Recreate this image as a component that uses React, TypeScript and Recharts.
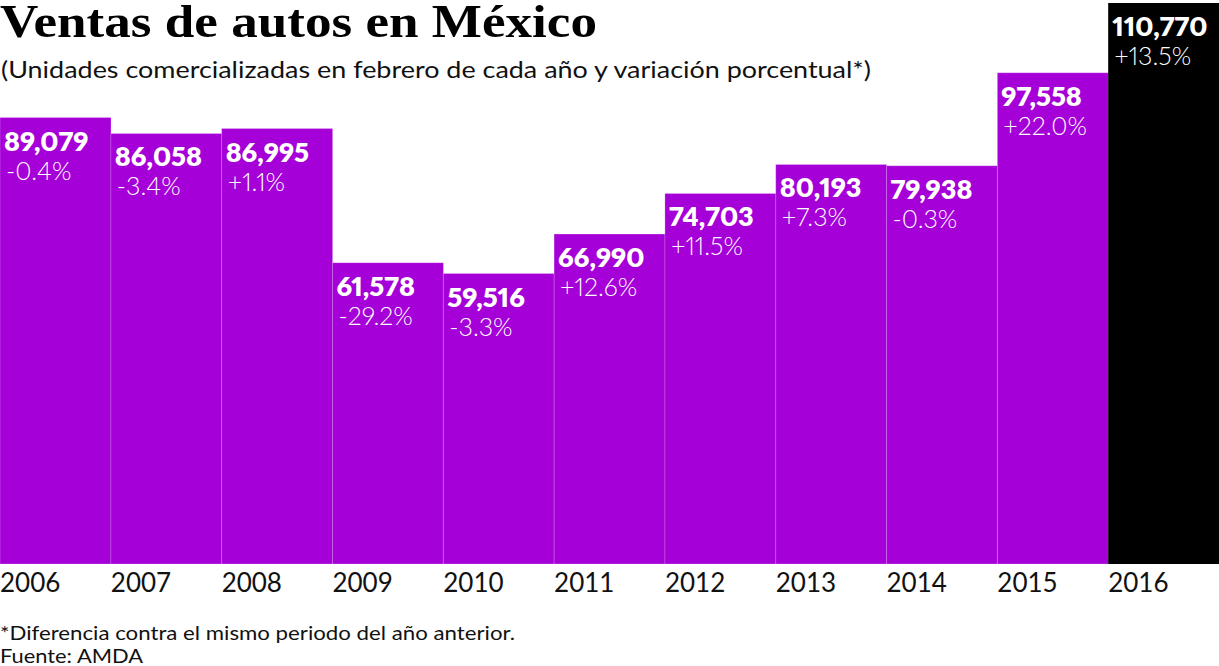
import { BarChart, Bar, XAxis, YAxis, Cell, LabelList } from 'recharts'

const years = ['2006', '2007', '2008', '2009', '2010', '2011', '2012', '2013', '2014', '2015', '2016']
const units = [89079, 86058, 86995, 61578, 59516, 66990, 74703, 80193, 79938, 97558, 110770]
const changes = ['-0.4%', '-3.4%', '+1.1%', '-29.2%', '-3.3%', '+12.6%', '+11.5%', '+7.3%', '-0.3%', '+22.0%', '+13.5%']

const W = 1219
const H = 666
const PURPLE = '#A600D8'
const FONT = 'Lato, "Open Sans", sans-serif'

const data = years.map((year, i) => ({ year, units: units[i], change: changes[i] }))

function fmt(n: number) {
  return n.toLocaleString('en-US')
}

function BarLabel(props: any) {
  const { x, y, index } = props
  const d = data[index]
  return (
    <g fill="#fff" fontFamily={FONT} style={{ fontVariantNumeric: 'proportional-nums' }}>
      <text x={x + 4} y={y + 33} fontSize={27} fontWeight={800}>{fmt(d.units)}</text>
      <text x={x + 6} y={y + 62} fontSize={25} fontWeight={300}>{d.change}</text>
    </g>
  )
}

function YearTick(props: any) {
  const { x, payload } = props
  const band = W / years.length
  return (
    <text x={x - band / 2} y={592} fontSize={26} fontFamily={FONT} fill="#111" textAnchor="start">
      {payload.value}
    </text>
  )
}

export default function App() {
  return (
    <div style={{ position: 'absolute', left: 0, top: 0, width: W, height: H, background: '#fff' }}>
      <BarChart width={W} height={H} data={data} margin={{ top: 3, right: 0, left: 0, bottom: 0 }} barCategoryGap={0}>
        <XAxis dataKey="year" axisLine={false} tickLine={false} interval={0} tick={<YearTick />} height={102} />
        <YAxis hide domain={[4500, 110770]} allowDataOverflow />
        <Bar dataKey="units" isAnimationActive={false}>
          {data.map((d, i) => (
            <Cell
              key={d.year}
              fill={i === data.length - 1 ? '#000' : PURPLE}
              stroke={i === data.length - 1 ? 'none' : 'rgba(255,255,255,0.22)'}
              strokeWidth={1}
            />
          ))}
          <LabelList dataKey="units" content={<BarLabel />} />
        </Bar>
      </BarChart>
      <svg width={W} height={H} style={{ position: 'absolute', left: 0, top: 0, pointerEvents: 'none' }}>
        <text x={0} y={37} fontFamily='"Liberation Serif", "DejaVu Serif", serif' fontWeight={700} fontSize={46}
          textLength={597} lengthAdjust="spacingAndGlyphs" fill="#000">
          Ventas de autos en México
        </text>
        <text x={1} y={78} fontFamily={FONT} fontSize={24} textLength={870} lengthAdjust="spacingAndGlyphs" fill="#111">
          (Unidades comercializadas en febrero de cada año y variación porcentual*)
        </text>
        <text x={0} y={640} fontFamily={FONT} fontSize={20} textLength={515} lengthAdjust="spacingAndGlyphs" fill="#111">
          *Diferencia contra el mismo periodo del año anterior.
        </text>
        <text x={0} y={663} fontFamily={FONT} fontSize={20} textLength={143} lengthAdjust="spacingAndGlyphs" fill="#111">
          Fuente: AMDA
        </text>
      </svg>
    </div>
  )
}
